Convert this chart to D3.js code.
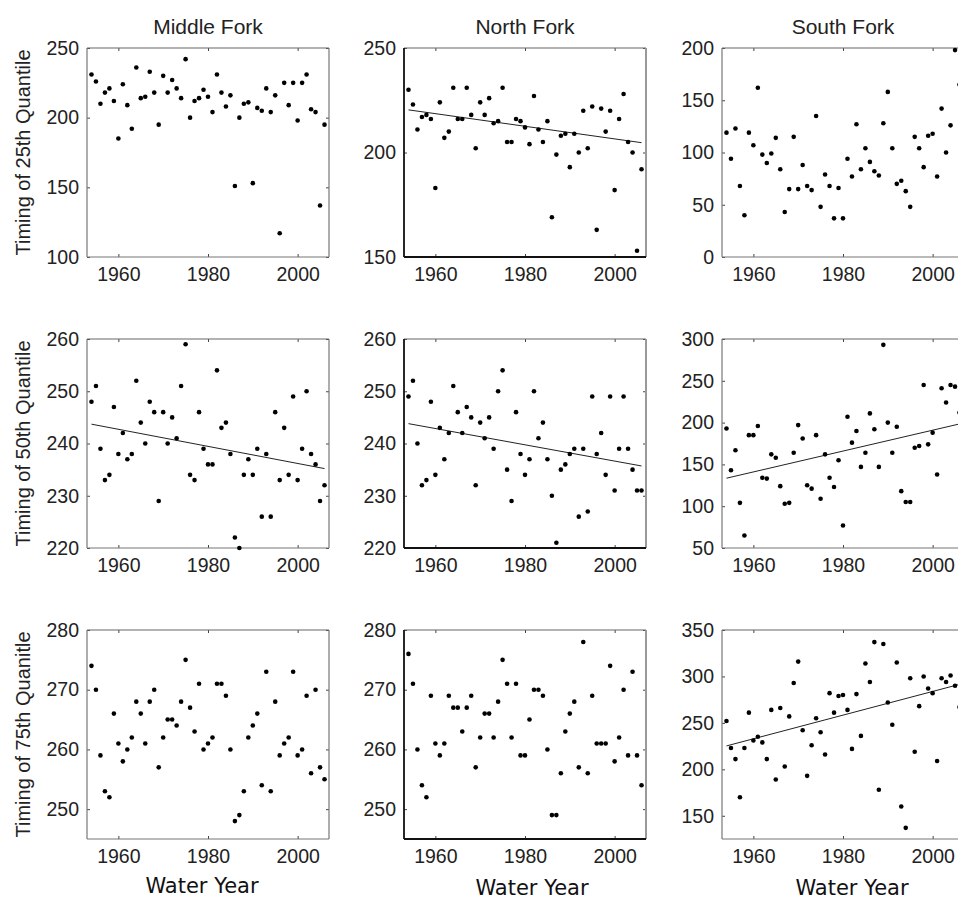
<!DOCTYPE html>
<html>
<head>
<meta charset="utf-8">
<script src="https://cdn.jsdelivr.net/npm/d3@7"></script>
<style>
	body { margin: 0; background: #fff; }
	svg { display: block; }
</style>
</head>
<body>
<script>
// Data (day of water year for each quantile)
const years = [1954, 1955, 1956, 1957, 1958, 1959, 1960, 1961, 1962, 1963,
	1964, 1965, 1966, 1967, 1968, 1969, 1970, 1971, 1972, 1973,
	1974, 1975, 1976, 1977, 1978, 1979, 1980, 1981, 1982, 1983,
	1984, 1985, 1986, 1987, 1988, 1989, 1990, 1991, 1992, 1993,
	1994, 1995, 1996, 1997, 1998, 1999, 2000, 2001, 2002, 2003,
	2004, 2005, 2006];

const middle25 = [231, 226, 210, 218, 221, 212, 185, 224, 209, 192,
	236, 214, 215, 233, 218, 195, 230, 218, 227, 221,
	214, 242, 200, 212, 214, 220, 215, 204, 231, 218,
	208, 216, 151, 200, 210, 211, 153, 207, 205, 221,
	204, 216, 117, 225, 209, 225, 198, 225, 231, 206,
	204, 137, 195];
const north25 = [230, 223, 211, 217, 218, 216, 183, 224, 207, 210,
	231, 216, 216, 231, 218, 202, 224, 218, 226, 214,
	215, 231, 205, 205, 216, 215, 212, 204, 227, 211,
	205, 215, 169, 199, 208, 209, 193, 209, 200, 220,
	202, 222, 163, 221, 210, 220, 182, 216, 228, 205,
	200, 153, 192];
const south25 = [119, 94, 123, 68, 40, 119, 107, 162, 98, 90,
	99, 114, 84, 43, 65, 115, 65, 88, 68, 64,
	135, 48, 79, 68, 37, 66, 37, 94, 77, 127,
	84, 104, 91, 82, 78, 128, 158, 104, 70, 73,
	63, 48, 115, 104, 86, 116, 118, 77, 142, 100,
	126, 198, 165];

const middle50 = [248, 251, 239, 233, 234, 247, 238, 242, 237, 238,
	252, 244, 240, 248, 246, 229, 246, 240, 245, 241,
	251, 259, 234, 233, 246, 239, 236, 236, 254, 243,
	244, 238, 222, 220, 234, 237, 234, 239, 226, 238,
	226, 246, 233, 243, 234, 249, 233, 239, 250, 238,
	236, 229, 232];
const north50 = [249, 252, 240, 232, 233, 248, 234, 243, 237, 242,
	251, 246, 242, 247, 245, 232, 244, 241, 245, 239,
	250, 254, 235, 229, 246, 238, 234, 237, 250, 241,
	244, 237, 230, 221, 235, 236, 238, 239, 226, 239,
	227, 249, 238, 242, 234, 249, 231, 239, 249, 239,
	235, 231, 231];
const south50 = [193, 143, 167, 104, 65, 185, 185, 196, 134, 133,
	162, 158, 124, 103, 104, 164, 197, 181, 125, 121,
	185, 109, 162, 134, 123, 155, 77, 207, 176, 190,
	147, 164, 211, 192, 147, 293, 200, 164, 195, 118,
	105, 105, 170, 172, 245, 174, 188, 138, 241, 224,
	245, 243, 212];

const middle75 = [274, 270, 259, 253, 252, 266, 261, 258, 260, 262,
	268, 266, 261, 268, 270, 257, 262, 265, 265, 264,
	268, 275, 267, 263, 271, 260, 261, 262, 271, 271,
	269, 260, 248, 249, 253, 262, 264, 266, 254, 273,
	253, 268, 259, 261, 262, 273, 259, 260, 269, 256,
	270, 257, 255];
const north75 = [276, 271, 260, 254, 252, 269, 261, 259, 261, 269,
	267, 267, 263, 267, 269, 257, 262, 266, 266, 262,
	268, 275, 271, 262, 271, 259, 259, 265, 270, 270,
	269, 260, 249, 249, 256, 263, 266, 268, 257, 278,
	256, 269, 261, 261, 261, 274, 258, 262, 270, 259,
	273, 259, 254];
const south75 = [252, 223, 211, 170, 223, 261, 231, 235, 229, 211,
	264, 189, 266, 203, 257, 293, 316, 242, 193, 226,
	255, 240, 216, 282, 261, 279, 280, 264, 222, 281,
	236, 314, 294, 337, 178, 335, 272, 248, 315, 160,
	137, 298, 219, 268, 300, 287, 282, 209, 298, 294,
	301, 290, 267];

// fitted trend lines (start / end), only where the figure shows one
const north25Trend = [[1954, 220.4], [2006, 204.7]];
const middle50Trend = [[1954, 243.7], [2006, 235.2]];
const north50Trend = [[1954, 243.8], [2006, 235.7]];
const south50Trend = [[1954, 133.5], [2006, 198.4]];
const south75Trend = [[1954, 225.2], [2006, 291.5]];

// axis ranges and tick labels
const yearDomain = [1953, 2007];
const yearTicks = [1960, 1980, 2000];
const middle25Ticks = [100, 150, 200, 250];
const north25Ticks = [150, 200, 250];
const south25Ticks = [0, 50, 100, 150, 200];
const fifty50Ticks = [220, 230, 240, 250, 260];
const south50Ticks = [50, 100, 150, 200, 250, 300];
const fork75Ticks = [250, 260, 270, 280];
const south75Ticks = [150, 200, 250, 300, 350];

const forkNames = ["Middle Fork", "North Fork", "South Fork"];
const rowLabels = ["Timing of 25th Quantile", "Timing of 50th Quantile", "Timing of 75th Quanitle"];
const xLabel = "Water Year";

const panels = [
	{ row: 0, col: 0, values: middle25, domain: [100, 250], ticks: middle25Ticks, trend: null },
	{ row: 0, col: 1, values: north25, domain: [150, 250], ticks: north25Ticks, trend: north25Trend },
	{ row: 0, col: 2, values: south25, domain: [0, 200], ticks: south25Ticks, trend: null },
	{ row: 1, col: 0, values: middle50, domain: [220, 260], ticks: fifty50Ticks, trend: middle50Trend },
	{ row: 1, col: 1, values: north50, domain: [220, 260], ticks: fifty50Ticks, trend: north50Trend },
	{ row: 1, col: 2, values: south50, domain: [50, 300], ticks: south50Ticks, trend: south50Trend },
	{ row: 2, col: 0, values: middle75, domain: [245, 280], ticks: fork75Ticks, trend: null },
	{ row: 2, col: 1, values: north75, domain: [245, 280], ticks: fork75Ticks, trend: null },
	{ row: 2, col: 2, values: south75, domain: [125, 350], ticks: south75Ticks, trend: south75Trend }
];

// Layout
const dimensions = {
	width: 958,
	height: 900,
	panelWidth: 242,
	panelHeight: 209,
	colLeft: [87, 404, 722],
	rowTop: [48, 339, 630]
};

const svg = d3.select("body")
	.append("svg")
	.attr("width", dimensions.width)
	.attr("height", dimensions.height);

const tickFont = "'Liberation Sans', Arial, sans-serif";

panels.forEach(p => {
	const left = dimensions.colLeft[p.col];
	const top = dimensions.rowTop[p.row];
	const w = dimensions.panelWidth;
	const h = dimensions.panelHeight;

	const xScale = d3.scaleLinear().domain(yearDomain).range([0, w]);
	const yScale = d3.scaleLinear().domain(p.domain).range([h, 0]);

	const g = svg.append("g")
		.attr("transform", `translate(${left}, ${top})`);

	// axes with small inward ticks
	const yAxis = g.append("g")
		.call(d3.axisLeft(yScale).tickValues(p.ticks).tickSizeInner(-3).tickSizeOuter(0).tickPadding(8));
	const yAxisRight = g.append("g")
		.attr("transform", `translate(${w}, 0)`)
		.call(d3.axisRight(yScale).tickValues(p.ticks).tickSizeInner(-3).tickSizeOuter(0).tickFormat(""));
	const xAxis = g.append("g")
		.attr("transform", `translate(0, ${h})`)
		.call(d3.axisBottom(xScale).tickValues(yearTicks).tickFormat(d3.format("d"))
			.tickSizeInner(-3).tickSizeOuter(0).tickPadding(10));
	const xAxisTop = g.append("g")
		.call(d3.axisTop(xScale).tickValues(yearTicks).tickSizeInner(-3).tickSizeOuter(0).tickFormat(""));

	[yAxis, yAxisRight, xAxis, xAxisTop].forEach(a => {
		a.select(".domain").remove();
		a.selectAll(".tick line").attr("stroke", "#444");
		a.selectAll("text")
			.attr("fill", "#222")
			.style("font-family", tickFont)
			.style("font-size", "19.5px");
	});

	// frame: middle column has darker left/bottom axes
	const dark = p.col === 1;
	g.append("line").attr("x1", 0).attr("x2", w).attr("y1", 0).attr("y2", 0)
		.attr("stroke", "#666").attr("stroke-width", 1.2);
	g.append("line").attr("x1", w).attr("x2", w).attr("y1", 0).attr("y2", h)
		.attr("stroke", dark ? "#999" : "#777").attr("stroke-width", dark ? 2 : 1.2);
	g.append("line").attr("x1", 0).attr("x2", 0).attr("y1", 0).attr("y2", h)
		.attr("stroke", dark ? "#111" : "#777").attr("stroke-width", dark ? 1.8 : 1.2);
	g.append("line").attr("x1", 0).attr("x2", w).attr("y1", h).attr("y2", h)
		.attr("stroke", dark ? "#111" : "#777").attr("stroke-width", dark ? 1.8 : 1.2);

	// trend line
	if (p.trend) {
		g.append("path")
			.datum(p.trend)
			.attr("fill", "none")
			.attr("stroke", "#222")
			.attr("stroke-width", 1)
			.attr("d", d3.line().x(d => xScale(d[0])).y(d => yScale(d[1])));
	}

	// points
	g.selectAll("circle")
		.data(years.map((yr, i) => ({ year: yr, value: p.values[i] })))
		.join("circle")
		.attr("cx", d => xScale(d.year))
		.attr("cy", d => yScale(d.value))
		.attr("r", 2.3)
		.attr("fill", "#000");

	// column titles
	if (p.row === 0) {
		svg.append("text")
			.attr("x", left + w / 2)
			.attr("y", 34)
			.attr("text-anchor", "middle")
			.attr("fill", "#222")
			.style("font-family", tickFont)
			.style("font-size", "21px")
			.text(forkNames[p.col]);
	}

	// row labels
	if (p.col === 0) {
		svg.append("text")
			.attr("transform", `translate(29.5, ${top + h / 2}) rotate(-90)`)
			.attr("text-anchor", "middle")
			.attr("fill", "#222")
			.style("font-family", tickFont)
			.style("font-size", "20px")
			.text(rowLabels[p.row]);
	}

	// x label under the bottom row
	if (p.row === 2) {
		const labelX = [202, 532, 852];
		const labelY = [893, 895, 895];
		svg.append("text")
			.attr("x", labelX[p.col])
			.attr("y", labelY[p.col])
			.attr("text-anchor", "middle")
			.attr("fill", "#111")
			.style("font-family", "'DejaVu Sans', Verdana, sans-serif")
			.style("font-size", "21px")
			.text(xLabel);
	}
});
</script>
</body>
</html>
